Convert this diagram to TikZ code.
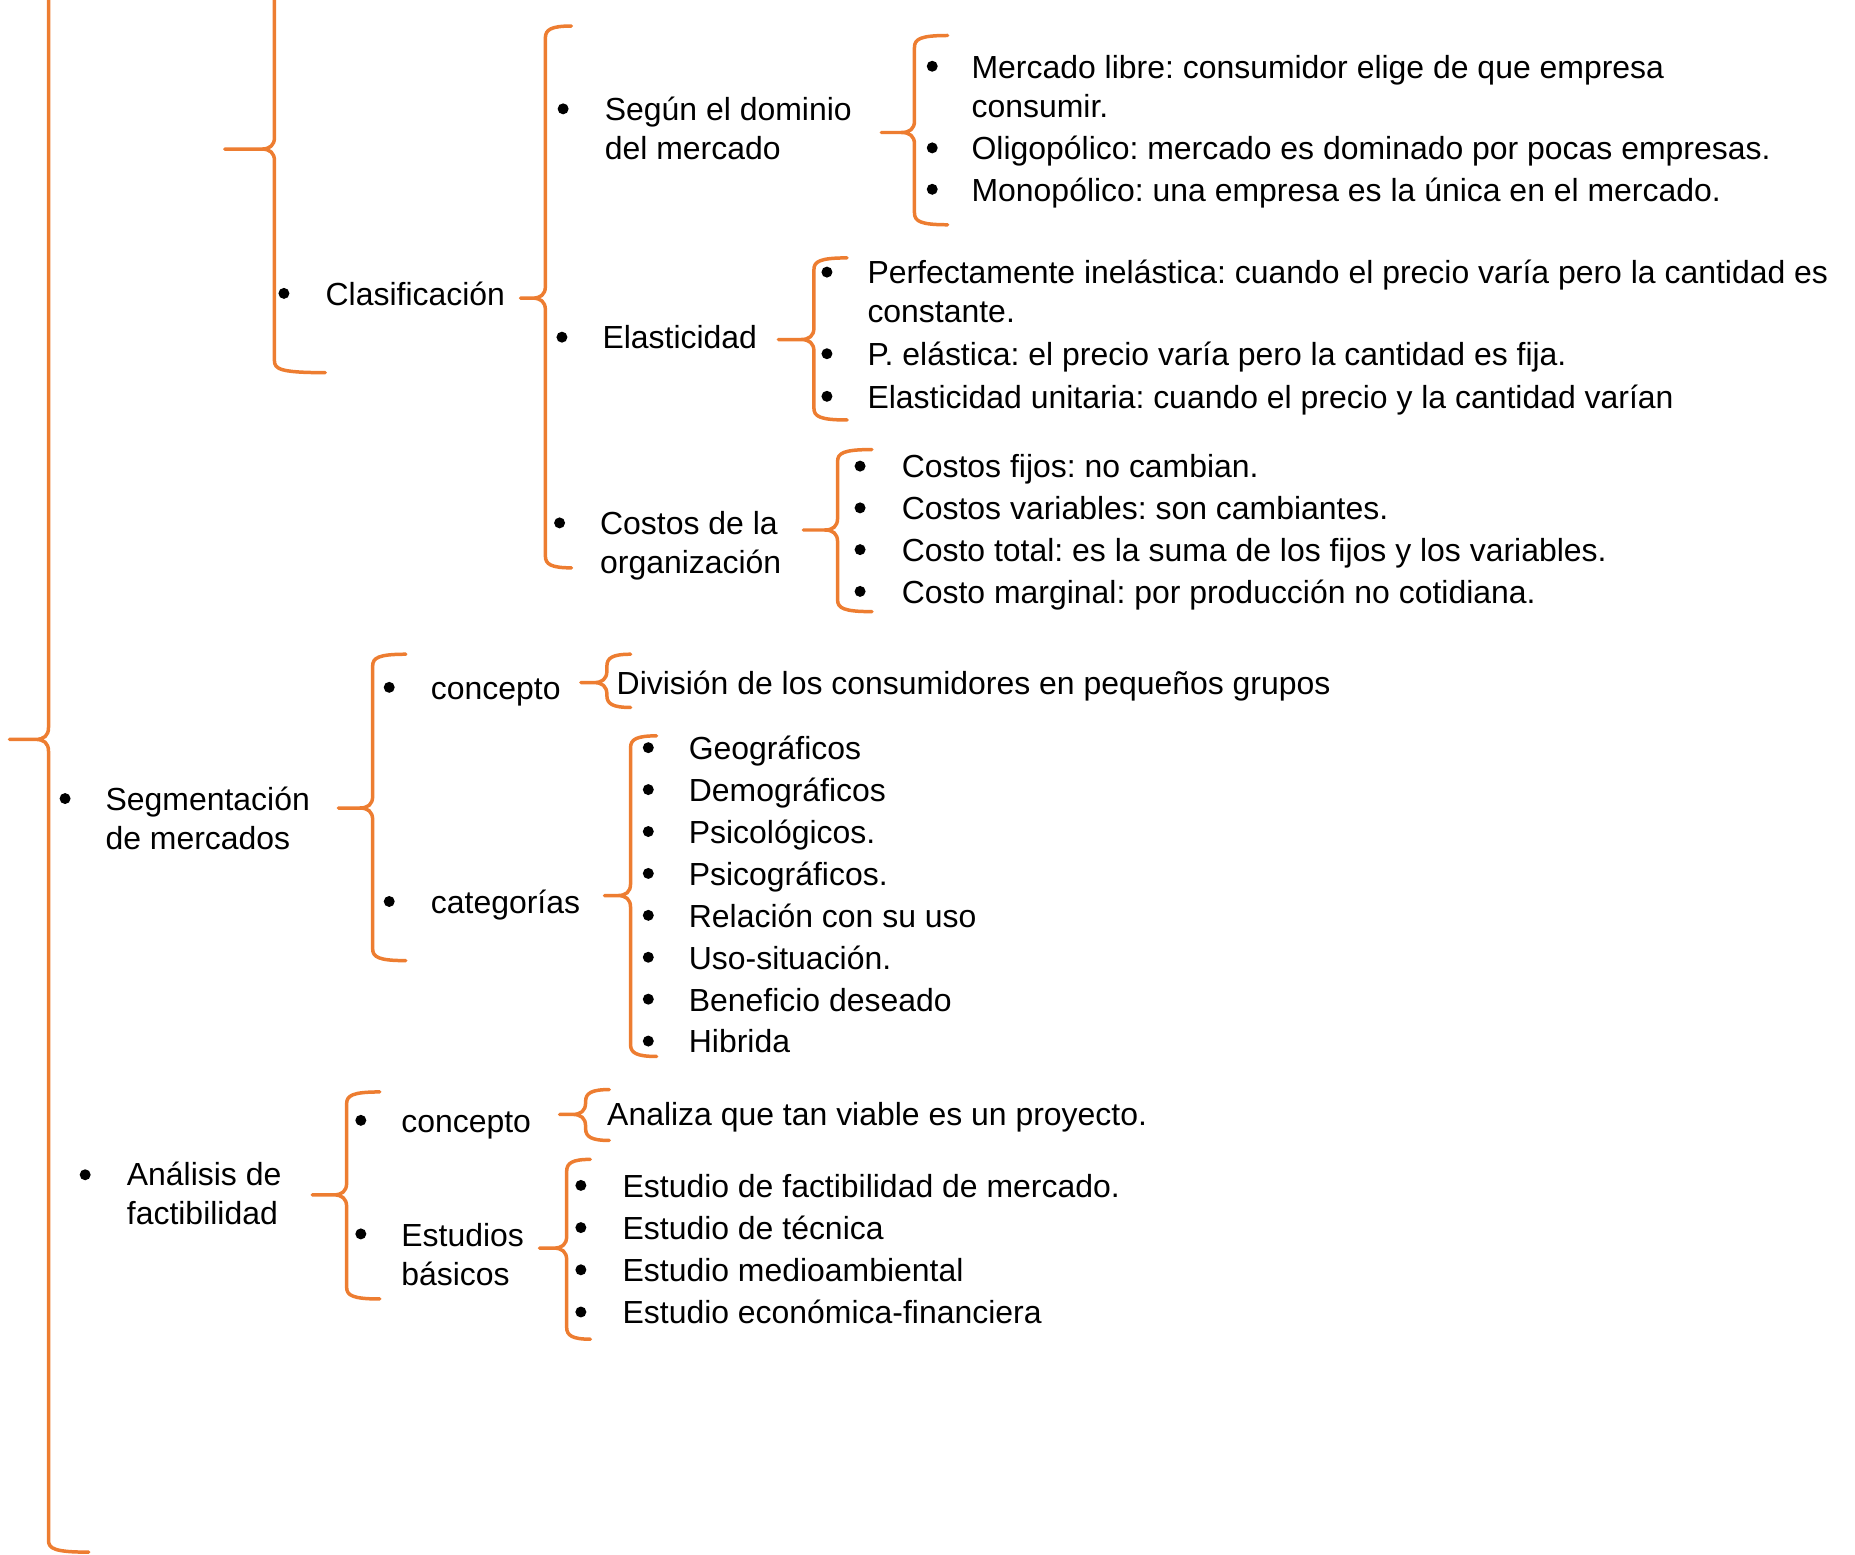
\documentclass[tikz,border=0pt]{standalone}
\usepackage{fontspec}
\setmainfont{Liberation Sans}
\frenchspacing
\definecolor{naranja}{HTML}{ED7D31}
\tikzset{
  llave/.style={draw=naranja,line width=2.1pt,line join=round,line cap=round},
  txt/.style={anchor=base west,inner sep=0pt,align=left,
    font=\fontsize{19.2}{23.5}\selectfont},
}
% #1 x of the line, #2 top, #3 y of the tip, #4 bottom, #5 x of the tip, #6 x of the hooks
\newcommand{\llave}[6]{%
  \draw[llave] (#6,#2) .. controls (#1+5,#2) and (#1,#2+3) .. (#1,#2+10)
    -- (#1,#3-10) .. controls (#1,#3-3) and (#1-4,#3) .. (#1-11,#3) -- (#5,#3)
    -- (#1-11,#3) .. controls (#1-4,#3) and (#1,#3+3) .. (#1,#3+10)
    -- (#1,#4-10) .. controls (#1,#4-3) and (#1+5,#4) .. (#6,#4);}
\newcommand{\punto}[2]{\fill (#1,{#2}) circle (3.3pt);}
\begin{document}
\begin{tikzpicture}[x=0.025cm,y=-0.025cm]
\useasboundingbox (0,0) rectangle (1568,1314);
% outer braces, cut by the top edge
\draw[llave] (41,-20) -- (41,615) .. controls (41,622) and (37,625) .. (30,625) -- (8,625)
  -- (30,625) .. controls (37,625) and (41,628) .. (41,635)
  -- (41,1302) .. controls (41,1309) and (46,1312) .. (75,1312);
\draw[llave] (232,-20) -- (232,116) .. controls (232,123) and (228,126) .. (221,126) -- (190,126)
  -- (221,126) .. controls (228,126) and (232,129) .. (232,136)
  -- (232,305) .. controls (232,312) and (237,315) .. (275,315);

% Clasificacion
\punto{240}{248}
\node[txt] (clasif) at (275,258) {Clasificación};
\llave{461}{22}{252}{480}{440}{483}
\punto{476}{92}
\node[txt] (segun) at (511,135) {Según el dominio\\del mercado};
\punto{475}{285}
\node[txt] (elast) at (509,295) {Elasticidad};
\punto{473}{442}
\node[txt] (costos) at (507,485) {Costos de la\\organización};

\llave{773}{30}{112}{190}{745}{801}
\punto{788}{56}
\node[txt] (libre) at (821,99) {Mercado libre: consumidor elige de que empresa\\consumir.};
\punto{788}{125}
\node[txt] (oligo) at (821,135) {Oligopólico: mercado es dominado por pocas empresas.};
\punto{788}{160}
\node[txt] (mono) at (821,170) {Monopólico: una empresa es la única en el mercado.};

\llave{688}{218}{287}{355}{658}{716}
\punto{699}{230}
\node[txt] (perf) at (733,273) {Perfectamente inelástica: cuando el precio varía pero la cantidad es\\constante.};
\punto{699}{299}
\node[txt] (pelas) at (733,309) {P. elástica: el precio varía pero la cantidad es fija.};
\punto{699}{335}
\node[txt] (unit) at (733,345) {Elasticidad unitaria: cuando el precio y la cantidad varían};

\llave{708}{380}{448}{517}{679}{737}
\foreach \t [count=\i] in {Costos fijos: no cambian.,Costos variables: son cambiantes.,
  Costo total: es la suma de los fijos y los variables.,Costo marginal: por producción no cotidiana.}{
  \punto{727}{394+35.3*(\i-1)}
  \node[txt] (costo\i) at (762,{404+35.3*(\i-1)}) {\t};
}

% Segmentacion de mercados
\punto{55}{675}
\node[txt] (segm) at (89,718) {Segmentación\\de mercados};
\llave{315}{553}{683}{812}{286}{343}
\punto{329}{581}
\node[txt] (conc1) at (364,591) {concepto};
\punto{329}{762}
\node[txt] (categ) at (364,772) {categorías};
\llave{513}{553}{577}{598}{491}{533}
\node[txt] (divis) at (521,587) {División de los consumidores en pequeños grupos};
\llave{533}{622}{757}{893}{511}{555}
\foreach \t [count=\i] in {Geográficos,Demográficos,Psicológicos.,Psicográficos.,
  Relación con su uso,Uso-situación.,Beneficio deseado,Hibrida}{
  \punto{548}{632+35.43*(\i-1)}
  \node[txt] (cat\i) at (582,{642+35.43*(\i-1)}) {\t};
}

% Analisis de factibilidad
\punto{72}{993}
\node[txt] (anal) at (107,1035) {Análisis de\\factibilidad};
\llave{293}{923}{1010}{1098}{264}{321}
\punto{305}{947}
\node[txt] (conc2) at (339,957) {concepto};
\punto{305}{1043}
\node[txt] (estud) at (339,1087) {Estudios\\básicos};
\llave{495}{921}{942}{964}{473}{515}
\node[txt] (analiza) at (513,951) {Analiza que tan viable es un proyecto.};
\llave{479}{980}{1055}{1132}{456}{499}
\foreach \t [count=\i] in {Estudio de factibilidad de mercado.,Estudio de técnica,
  Estudio medioambiental,Estudio económica-financiera}{
  \punto{491}{1002+35.67*(\i-1)}
  \node[txt] (est\i) at (526,{1012+35.67*(\i-1)}) {\t};
}
\end{tikzpicture}
\end{document}
